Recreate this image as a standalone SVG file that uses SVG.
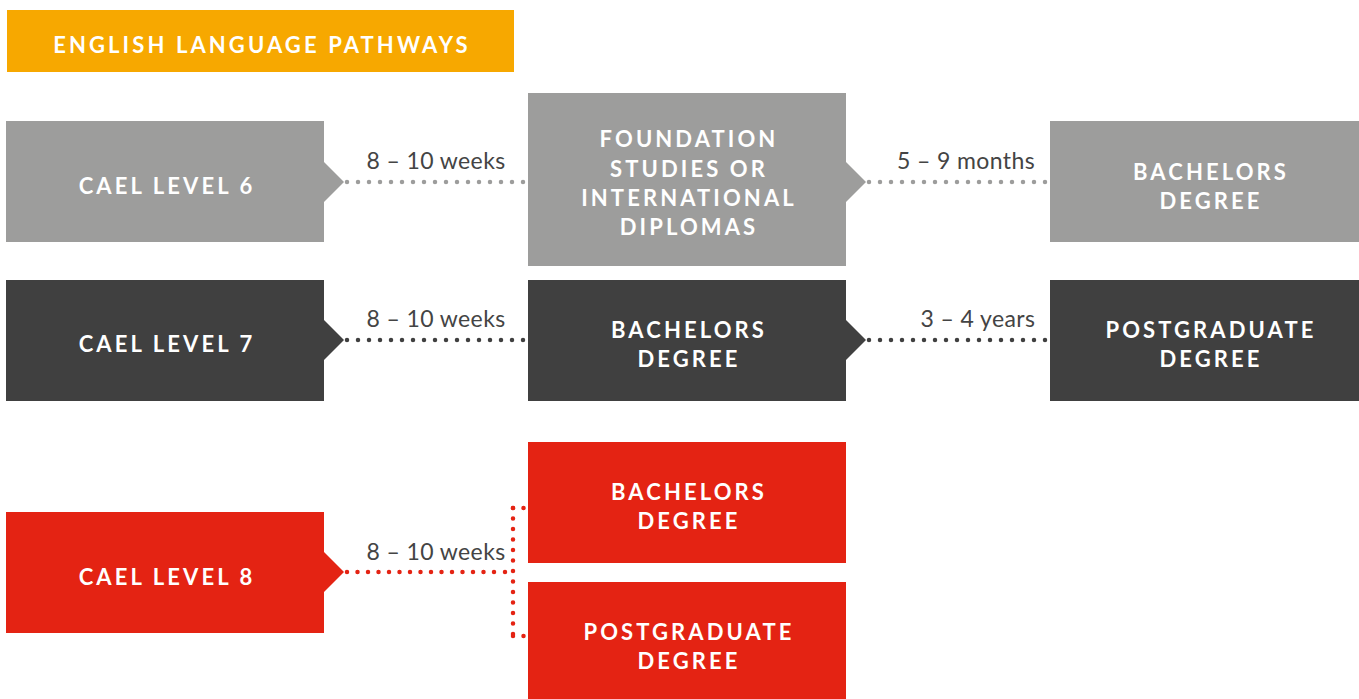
<svg xmlns="http://www.w3.org/2000/svg" width="1359" height="699" viewBox="0 0 1359 699">
<style>
.t{font-family:Lato,"Open Sans","Liberation Sans",sans-serif;font-weight:700;font-size:22px;fill:#fff;letter-spacing:3.1px;text-anchor:middle}
.l{font-family:Lato,"Open Sans","Liberation Sans",sans-serif;font-size:23px;fill:#444;letter-spacing:0.4px;text-anchor:middle}
.dg{fill:none;stroke:#9d9d9c;stroke-width:4.5;stroke-linecap:round;stroke-dasharray:0 11}
.dd{fill:none;stroke:#404040;stroke-width:4.5;stroke-linecap:round;stroke-dasharray:0 11}
.dr{fill:none;stroke:#e42313;stroke-width:4.5;stroke-linecap:round;stroke-dasharray:0 10.5}
.g{fill:#9d9d9c}.d{fill:#404040}.r{fill:#e42313}
</style>
<rect width="1359" height="699" fill="#fff"/>
<g id="header"><rect x="7" y="10" width="507" height="62" fill="#f7a800"/><text class="t" x="262" y="53">ENGLISH LANGUAGE PATHWAYS</text></g>
<g id="connectors">
<path class="dg" d="M347 182H525"/>
<path class="dg" d="M869 182H1047"/>
<path class="dd" d="M347 340H525"/>
<path class="dd" d="M869 340H1047"/>
<path class="dr" d="M347 572H502"/>
<path class="dr" d="M513 508V636"/>
<path class="dr" d="M513 508H524M513 636H524M505 572H513"/>
<text class="l" x="436" y="169">8 – 10 weeks</text>
<text class="l" x="966" y="169">5 – 9 months</text>
<text class="l" x="978" y="327">3 – 4 years</text>
<text class="l" x="436" y="327">8 – 10 weeks</text>
<text class="l" x="436" y="560">8 – 10 weeks</text>
</g>
<g id="cael6"><path class="g" d="M6 121H324V162L344 182L324 202V242H6Z"/><text class="t" x="167" y="194">CAEL LEVEL 6</text></g>
<g id="foundation"><path class="g" d="M528 93H846V162L866 182L846 202V266H528Z"/><text class="t" x="689" y="147">FOUNDATION</text><text class="t" x="689" y="177">STUDIES OR</text><text class="t" x="689" y="206">INTERNATIONAL</text><text class="t" x="689" y="235">DIPLOMAS</text></g>
<g id="bach1"><rect class="g" x="1050" y="121" width="309" height="121"/><text class="t" x="1211" y="180">BACHELORS</text><text class="t" x="1211" y="209">DEGREE</text></g>
<g id="cael7"><path class="d" d="M6 280H324V320L344 340L324 360V401H6Z"/><text class="t" x="167" y="352">CAEL LEVEL 7</text></g>
<g id="bach2"><path class="d" d="M528 280H846V320L866 340L846 360V401H528Z"/><text class="t" x="689" y="338">BACHELORS</text><text class="t" x="689" y="367">DEGREE</text></g>
<g id="post1"><rect class="d" x="1050" y="280" width="309" height="121"/><text class="t" x="1211" y="338">POSTGRADUATE</text><text class="t" x="1211" y="367">DEGREE</text></g>
<g id="cael8"><path class="r" d="M6 512H324V552L344 572L324 592V633H6Z"/><text class="t" x="167" y="585">CAEL LEVEL 8</text></g>
<g id="bach3"><rect class="r" x="528" y="442" width="318" height="121"/><text class="t" x="689" y="500">BACHELORS</text><text class="t" x="689" y="529">DEGREE</text></g>
<g id="post2"><rect class="r" x="528" y="582" width="318" height="117"/><text class="t" x="689" y="640">POSTGRADUATE</text><text class="t" x="689" y="669">DEGREE</text></g>
</svg>
